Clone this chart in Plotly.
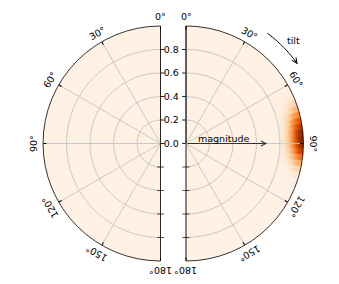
import math
import plotly.graph_objects as go
from plotly.colors import sample_colorscale

# ---------------- data ----------------
tilt_ticks = [0, 30, 60, 90, 120, 150, 180]
tilt_tick_labels = ["0°", "30°", "60°", "90°", "120°", "150°", "180°"]
mag_ticks = [0.0, 0.2, 0.4, 0.6, 0.8]
mag_tick_labels = ["0.0", "0.2", "0.4", "0.6", "0.8"]

# density cells of the right half (tilt bin centres x magnitude bin centres)
tilt_bins = [64, 67, 70, 73, 76, 79, 82, 85, 88, 91, 94, 97, 100, 103, 106, 109]
mag_bins = [0.81, 0.83, 0.85, 0.87, 0.89, 0.91, 0.93, 0.95, 0.97, 0.99]
density_right = [
    [.04, .04, .04, .04, .04, .06, .07, .08, .08, .08, .06, .05, .04, .04, .04, .04],
    [.04, .04, .04, .04, .06, .08, .10, .12, .12, .11, .10, .07, .05, .04, .04, .04],
    [.04, .04, .04, .06, .09, .13, .15, .17, .18, .17, .14, .11, .07, .04, .04, .04],
    [.04, .04, .06, .09, .14, .18, .22, .25, .26, .24, .21, .16, .10, .06, .04, .04],
    [.04, .05, .08, .13, .19, .26, .32, .36, .37, .35, .30, .22, .14, .08, .04, .04],
    [.04, .06, .11, .18, .27, .36, .44, .49, .51, .48, .40, .30, .19, .11, .05, .04],
    [.05, .08, .15, .24, .35, .47, .57, .64, .66, .62, .53, .39, .26, .14, .06, .04],
    [.05, .10, .18, .29, .43, .57, .70, .78, .81, .76, .65, .49, .32, .18, .08, .04],
    [.06, .12, .21, .34, .49, .66, .80, .89, .93, .88, .75, .56, .37, .20, .09, .05],
    [.06, .12, .22, .36, .52, .70, .85, .96, 1.0, .94, .80, .60, .40, .22, .10, .05],
]
background_left = 0.035
background_right = 0.035
magnitude_arrow_len = 0.69

# ---------------- geometry ----------------
W, H = 339, 284
CX_R, CX_L, CY, R = 186.0, 160.5, 143.5, 117.5
FONT = "DejaVu Sans"
FS = 9.5
GRID = "#c9c9c9"
bin_w = 3
bin_h = 0.02


def px(x):
    return x / W


def py(y):
    return 1 - y / H


fig = go.Figure()

thetas, bases, rs, vals = [], [], [], []
for i, m in enumerate(mag_bins):
    for j, t in enumerate(tilt_bins):
        thetas.append(t)
        bases.append(m - bin_h / 2)
        rs.append(bin_h)
        vals.append(density_right[i][j])

fig.add_trace(go.Barpolar(
    theta=thetas, r=rs, base=bases, width=bin_w,
    marker=dict(color=vals, colorscale="Oranges", cmin=0, cmax=1,
                line=dict(width=0.7, color=vals, colorscale="Oranges", cmin=0, cmax=1)),
    hoverinfo="skip", showlegend=False, subplot="polar2"))

# grid lines that pass over the density spot
arc_t = list(range(56, 118, 2))
fig.add_trace(go.Scatterpolar(theta=arc_t, r=[0.8] * len(arc_t), mode="lines",
                              line=dict(color=GRID, width=0.8), hoverinfo="skip",
                              showlegend=False, subplot="polar2"))
fig.add_trace(go.Scatterpolar(theta=[90, 90], r=[magnitude_arrow_len, 1.0], mode="lines",
                              line=dict(color=GRID, width=0.8), hoverinfo="skip",
                              showlegend=False, subplot="polar2"))

# ticks on the lower (180°) edges
for sp in ("polar", "polar2"):
    fig.add_trace(go.Scatterpolar(theta=[180] * 4, r=[0.2, 0.4, 0.6, 0.8], mode="markers",
                                  marker=dict(symbol="line-ew", size=5,
                                              line=dict(width=0.8, color="#222")),
                                  hoverinfo="skip", showlegend=False, subplot=sp))


def polar_layout(direction, sector, cx, left, bg, show_labels, side):
    x0 = cx - R if left else cx
    x1 = cx if left else cx + R
    return dict(
        domain=dict(x=[px(x0), px(x1)], y=[py(CY + R), py(CY - R)]),
        sector=sector,
        bgcolor=sample_colorscale("Oranges", [bg])[0],
        radialaxis=dict(range=[0, 1], angle=90, side=side, tickvals=mag_ticks,
                        ticktext=mag_tick_labels, showticklabels=show_labels,
                        ticks="outside", ticklen=3.5, tickwidth=0.8, tickcolor="#222",
                        showline=True, linecolor="#222", linewidth=0.8,
                        gridcolor=GRID, gridwidth=0.8, tickangle=90,
                        tickfont=dict(family=FONT, size=FS, color="black"),
                        layer="above traces"),
        angularaxis=dict(rotation=90, direction=direction, tickvals=tilt_ticks,
                         showticklabels=False, ticks="inside", ticklen=3,
                         tickwidth=0.8, tickcolor="black",
                         showline=True, linecolor="black", linewidth=0.8,
                         gridcolor=GRID, gridwidth=0.8, layer="above traces"),
    )


annotations = []
RL = 127
for t, lab in zip(tilt_ticks, tilt_tick_labels):
    a = math.radians(t)
    annotations.append(dict(x=px(CX_R + RL * math.sin(a)), y=py(CY - RL * math.cos(a)),
                            xref="paper", yref="paper", text=lab, showarrow=False,
                            xanchor="center", yanchor="middle",
                            textangle=t, font=dict(family=FONT, size=FS, color="black")))
    annotations.append(dict(x=px(CX_L - RL * math.sin(a)), y=py(CY - RL * math.cos(a)),
                            xref="paper", yref="paper", text=lab, showarrow=False,
                            xanchor="center", yanchor="middle",
                            textangle=-t, font=dict(family=FONT, size=FS, color="black")))

# magnitude arrow
head_x = CX_R + magnitude_arrow_len * R
annotations.append(dict(x=px(head_x), y=py(CY), xref="paper", yref="paper",
                        ax=-(head_x - CX_R), ay=0, axref="pixel", ayref="pixel",
                        showarrow=True, arrowhead=5, arrowsize=1, arrowwidth=1,
                        arrowcolor="#333", text=""))
annotations.append(dict(x=px(224.5), y=py(138.5), xref="paper", yref="paper",
                        text="magnitude", showarrow=False, xanchor="center", yanchor="middle",
                        font=dict(family=FONT, size=FS, color="black")))

# tilt curved arrow
RA = 137
t0, t1 = 36.5, 54.5
pts = []
n = 20
for k in range(n + 1):
    tt = math.radians(t0 + (t1 - t0) * k / n)
    pts.append((px(CX_R + RA * math.sin(tt)), py(CY - RA * math.cos(tt))))
path = "M " + " L ".join(f"{x:.5f},{y:.5f}" for x, y in pts)
ta = math.radians(t1)
hx, hy = CX_R + RA * math.sin(ta), CY - RA * math.cos(ta)
annotations.append(dict(x=px(hx), y=py(hy), xref="paper", yref="paper",
                        ax=-6 * math.cos(ta), ay=-6 * math.sin(ta), axref="pixel", ayref="pixel",
                        showarrow=True, arrowhead=5, arrowsize=1, arrowwidth=1,
                        arrowcolor="black", text=""))
annotations.append(dict(x=px(293.5), y=py(40), xref="paper", yref="paper",
                        text="tilt", showarrow=False, xanchor="center", yanchor="middle",
                        font=dict(family=FONT, size=FS, color="black")))

fig.update_layout(
    width=W, height=H, margin=dict(l=0, r=0, t=0, b=0),
    paper_bgcolor="white", showlegend=False,
    polar=polar_layout("counterclockwise", [90, 270], CX_L, True, background_left, False, "clockwise"),
    polar2=polar_layout("clockwise", [-90, 90], CX_R, False, background_right, True, "counterclockwise"),
    annotations=annotations,
    shapes=[dict(type="path", path=path, xref="paper", yref="paper",
                 line=dict(color="black", width=1))],
)

fig.write_html("out.html", config={"displayModeBar": False},
               post_script="document.body.style.margin='0';")
